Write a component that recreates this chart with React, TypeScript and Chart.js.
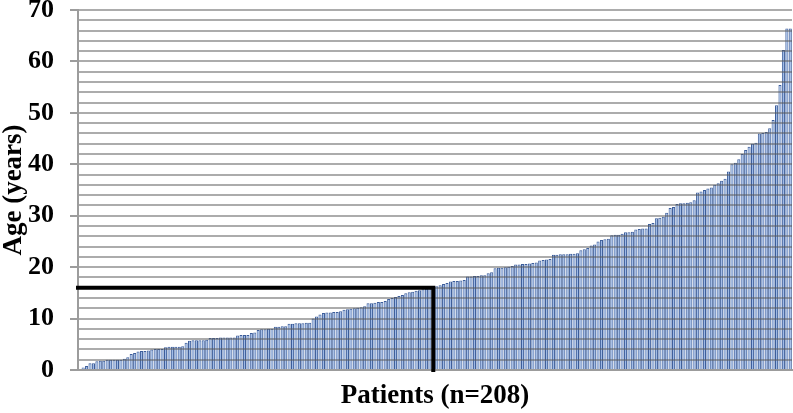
import React, { useEffect, useRef } from "react";
import { Chart, registerables } from "chart.js";

Chart.register(...registerables);

// Ages of the 208 patients, sorted ascending
const ages: number[] = [
  0.15, 0.5, 0.8, 1.3, 1.3, 1.7, 1.8, 1.8, 2.0, 2.0,
  2.0, 2.0, 2.0, 2.2, 2.5, 3.1, 3.3, 3.6, 3.7, 3.7,
  3.8, 4.0, 4.1, 4.1, 4.1, 4.4, 4.5, 4.5, 4.5, 4.5,
  4.6, 5.3, 5.7, 5.8, 5.8, 5.8, 5.8, 5.9, 6.2, 6.2,
  6.2, 6.3, 6.3, 6.3, 6.3, 6.3, 6.7, 6.8, 6.8, 6.8,
  7.2, 7.3, 7.8, 7.9, 7.9, 8.0, 8.0, 8.4, 8.4, 8.5,
  8.5, 9.0, 9.0, 9.1, 9.1, 9.1, 9.2, 9.2, 10.0, 10.4,
  10.8, 11.1, 11.2, 11.2, 11.3, 11.3, 11.4, 11.7, 11.8, 11.9,
  12.0, 12.1, 12.2, 12.4, 13.0, 13.0, 13.1, 13.2, 13.2, 13.4,
  13.8, 14.0, 14.2, 14.4, 14.6, 14.9, 15.1, 15.2, 15.4, 15.5,
  15.7, 15.8, 15.9, 16.0, 16.3, 16.5, 16.7, 16.9, 17.2, 17.3,
  17.3, 17.4, 17.5, 18.2, 18.2, 18.3, 18.3, 18.4, 18.4, 18.8,
  19.0, 19.8, 19.9, 19.9, 20.0, 20.1, 20.2, 20.5, 20.5, 20.6,
  20.6, 20.7, 20.8, 20.9, 21.3, 21.4, 21.5, 21.6, 22.4, 22.4,
  22.5, 22.5, 22.5, 22.6, 22.6, 22.7, 23.3, 23.5, 23.7, 24.2,
  24.4, 25.0, 25.3, 25.4, 25.5, 26.2, 26.3, 26.3, 26.5, 26.8,
  26.8, 26.9, 27.3, 27.4, 27.5, 27.5, 28.4, 28.6, 29.5, 29.6,
  29.8, 30.6, 31.5, 31.7, 32.3, 32.4, 32.4, 32.5, 32.6, 33.0,
  34.5, 34.7, 35.0, 35.3, 35.5, 36.0, 36.3, 36.8, 37.2, 38.6,
  40.0, 40.3, 41.0, 42.0, 42.8, 43.4, 44.0, 44.2, 46.0, 46.1,
  46.3, 47.0, 48.6, 51.5, 55.4, 62.2, 66.4, 66.4,
];

// Category labels: one per patient
const patients: string[] = ages.map((_, i) => `Patient ${i + 1}`);

// Y axis range and labelled ticks
const yMin = 0;
const yMax = 70;
const yGridStep = 2;
const yLabelStep = 10;

// Median marker (age and patient index)
const medianAge = 16;
const medianPatientIndex = 103;

const titles = {
  x: "Patients (n=208)",
  y: "Age (years)",
};

const FONT = "'Liberation Serif', 'Times New Roman', serif";
const AXIS_GRAY = "#9c9c9c";

const medianPlugin = {
  id: "medianLines",
  afterDraw(chart: any) {
    const { ctx, chartArea, scales } = chart;
    const x = scales.x.getPixelForValue(medianPatientIndex);
    const y = scales.y.getPixelForValue(medianAge);
    const y0 = scales.y.getPixelForValue(0);
    ctx.save();
    ctx.strokeStyle = "#000000";
    ctx.lineWidth = 4;
    ctx.lineCap = "butt";
    ctx.lineJoin = "miter";
    ctx.beginPath();
    ctx.moveTo(chartArea.left - 2, y);
    ctx.lineTo(x, y);
    ctx.lineTo(x, y0 + 2);
    ctx.stroke();
    ctx.restore();
  },
};

export default function App() {
  const canvasRef = useRef<HTMLCanvasElement | null>(null);

  useEffect(() => {
    if (!canvasRef.current) return;
    const chart = new Chart(canvasRef.current, {
      type: "bar",
      data: {
        labels: patients,
        datasets: [
          {
            data: ages,
            backgroundColor: "#9db9e6",
            borderColor: "#3c5d9a",
            borderWidth: { top: 1, left: 1, right: 1, bottom: 0 },
            borderSkipped: false,
            barPercentage: 0.9,
            categoryPercentage: 1,
          },
        ],
      },
      options: {
        animation: false,
        responsive: true,
        maintainAspectRatio: false,
        layout: { padding: { top: 10, right: 1, left: 0, bottom: 0 } },
        plugins: {
          legend: { display: false },
          tooltip: { enabled: false },
        },
        scales: {
          x: {
            ticks: { display: false },
            grid: { display: false, drawTicks: false },
            border: { display: true, color: AXIS_GRAY, width: 2, z: 2 },
            title: {
              display: true,
              text: titles.x,
              color: "#000000",
              font: { family: FONT, size: 27, weight: "bold", lineHeight: 1.2 },
              padding: { top: 0, bottom: 1 },
            },
            afterFit: (scale: any) => {
              scale.height = 43;
              scale.paddingLeft = 0;
              scale.paddingRight = 0;
            },
          },
          y: {
            min: yMin,
            max: yMax,
            ticks: {
              stepSize: yGridStep,
              autoSkip: false,
              padding: 16,
              color: "#000000",
              font: { family: FONT, size: 26, weight: "bold" },
              callback: (v: any) => (Number(v) % yLabelStep === 0 ? String(v) : ""),
            },
            grid: {
              z: 1,
              color: "rgba(90,90,90,0.5)",
              lineWidth: 2,
              drawTicks: true,
              tickLength: 8,
              tickColor: (c: any) =>
                c.tick && c.tick.value % yLabelStep === 0 ? AXIS_GRAY : "rgba(0,0,0,0)",
            },
            border: { display: true, color: AXIS_GRAY, width: 2, z: 2 },
            title: {
              display: true,
              text: titles.y,
              color: "#000000",
              font: { family: FONT, size: 27, weight: "bold", lineHeight: 1.0 },
              padding: { top: 1, bottom: 0 },
            },
            afterFit: (scale: any) => {
              scale.width = 78;
              scale.paddingTop = 0;
              scale.paddingBottom = 0;
            },
          },
        },
      },
      plugins: [medianPlugin],
    });
    return () => chart.destroy();
  }, []);

  return (
    <div
      style={{
        position: "fixed",
        left: 0,
        top: 0,
        width: 793,
        height: 413,
        background: "#ffffff",
      }}
    >
      <canvas ref={canvasRef} />
    </div>
  );
}
